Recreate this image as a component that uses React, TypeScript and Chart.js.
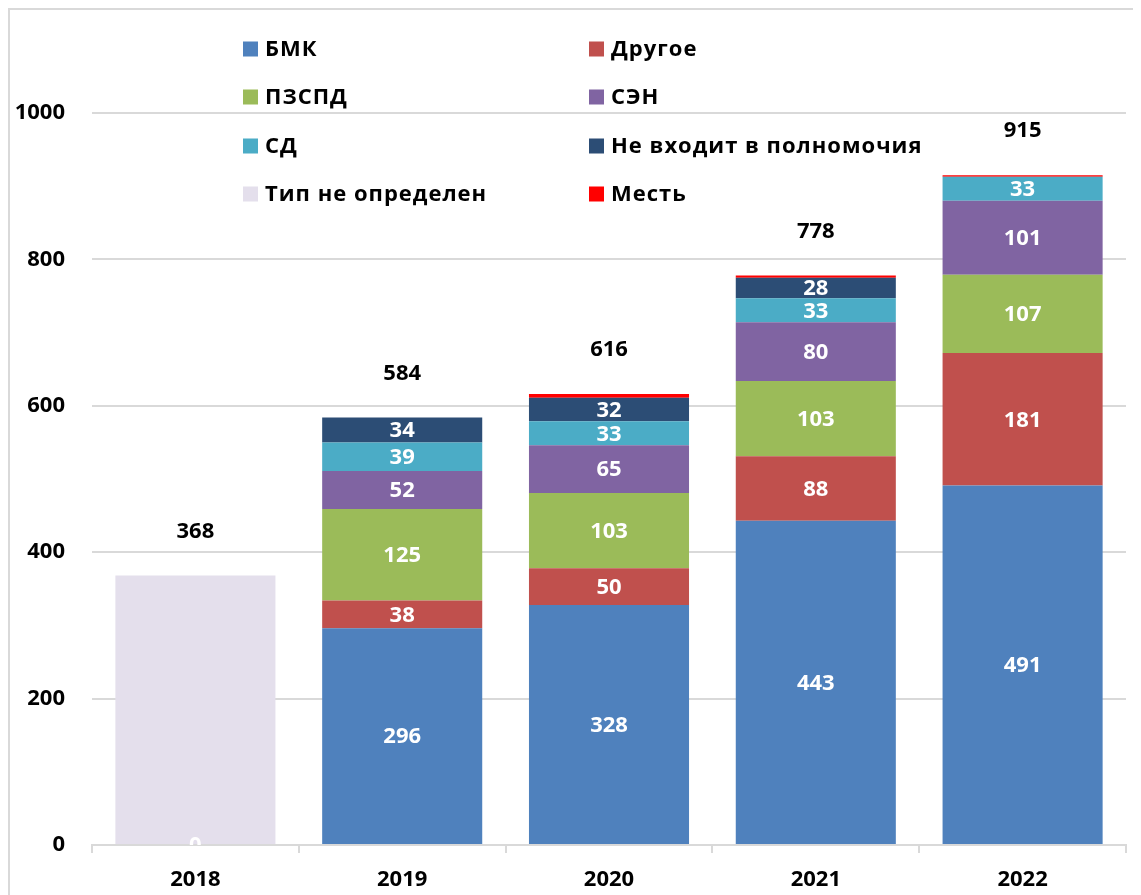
import React, { useEffect, useRef } from "react";
import { Chart, registerables } from "chart.js";

Chart.register(...registerables);

const categories = ["2018", "2019", "2020", "2021", "2022"];
const bmk = [0, 296, 328, 443, 491];
const drugoe = [null, 38, 50, 88, 181];
const pzspd = [null, 125, 103, 103, 107];
const sen = [null, 52, 65, 80, 101];
const sd = [null, 39, 33, 33, 33];
const neVhodit = [null, 34, 32, 28, null];
const mest = [null, null, 5, 3, 2];
const tipNeOpredelen = [368, null, null, null, null];
const yTicks = [0, 200, 400, 600, 800, 1000];

const FONT = '"Open Sans", "Noto Sans", sans-serif';

type DS = { label: string; data: (number | null)[]; color: string; showLabels: boolean };
const seriesDefs: DS[] = [
  { label: "БМК", data: bmk, color: "#4F81BD", showLabels: true },
  { label: "Другое", data: drugoe, color: "#C0504D", showLabels: true },
  { label: "ПЗСПД", data: pzspd, color: "#9BBB59", showLabels: true },
  { label: "СЭН", data: sen, color: "#8064A2", showLabels: true },
  { label: "СД", data: sd, color: "#4BACC6", showLabels: true },
  { label: "Не входит в полномочия", data: neVhodit, color: "#2C4D75", showLabels: true },
  { label: "Месть", data: mest, color: "#FF0000", showLabels: false },
  { label: "Тип не определен", data: tipNeOpredelen, color: "#E4DFEC", showLabels: false },
];

const legendOrder = [
  "БМК", "Другое",
  "ПЗСПД", "СЭН",
  "СД", "Не входит в полномочия",
  "Тип не определен", "Месть",
];

export default function App() {
  const ref = useRef<HTMLCanvasElement | null>(null);
  useEffect(() => {
    document.documentElement.style.overflow = "hidden";
    document.body.style.overflow = "hidden";
    let chart: Chart | null = null;
    let cancelled = false;

    const labelsPlugin = {
      id: "segLabels",
      afterDatasetsDraw(c: any) {
        const ctx = c.ctx;
        const area = c.chartArea;
        ctx.save();
        ctx.beginPath();
        ctx.rect(area.left, area.top, area.right - area.left, area.bottom - area.top);
        ctx.clip();
        ctx.font = `bold 22px ${FONT}`;
        ctx.fillStyle = "#FFFFFF";
        ctx.textAlign = "center";
        ctx.textBaseline = "middle";
        seriesDefs.forEach((s, di) => {
          if (!s.showLabels) return;
          const meta = c.getDatasetMeta(di);
          s.data.forEach((v, i) => {
            if (v === null || v === undefined) return;
            const el: any = meta.data[i];
            const cy = (el.y + el.base) / 2;
            ctx.fillText(String(v), el.x, cy + 1);
          });
        });
        ctx.restore();

        // totals
        ctx.save();
        ctx.font = `bold 22px ${FONT}`;
        ctx.fillStyle = "#000000";
        ctx.textAlign = "center";
        ctx.textBaseline = "middle";
        const yScale = c.scales.y;
        const xScale = c.scales.x;
        categories.forEach((_, i) => {
          let total = 0;
          seriesDefs.forEach((s) => {
            const v = s.data[i];
            if (typeof v === "number") total += v;
          });
          const top = yScale.getPixelForValue(total);
          ctx.fillText(String(total), xScale.getPixelForValue(i), top - 44);
        });
        ctx.restore();
      },
      afterDraw(c: any) {
        const ctx = c.ctx;
        ctx.save();
        ctx.font = `bold 22px ${FONT}`;
        ctx.textAlign = "left";
        ctx.textBaseline = "middle";
        try { (ctx as any).letterSpacing = "1px"; } catch (e) {}
        const colX = [233, 579];
        const rowY = [39, 87, 136, 184];
        legendOrder.forEach((name, k) => {
          const s = seriesDefs.find((d) => d.label === name)!;
          const col = k % 2;
          const row = Math.floor(k / 2);
          const x = colX[col];
          const y = rowY[row];
          ctx.fillStyle = s.color;
          ctx.fillRect(x, y - 7.5, 15, 15);
          ctx.fillStyle = "#000000";
          ctx.fillText(name, x + 22, y + 1);
        });
        ctx.restore();
      },
    };

    const make = () => {
      if (cancelled || !ref.current) return;
      chart = new Chart(ref.current, {
        type: "bar",
        data: {
          labels: categories,
          datasets: seriesDefs.map((s) => ({
            label: s.label,
            data: s.data as any,
            backgroundColor: s.color,
            borderWidth: 0,
            stack: "a",
            categoryPercentage: 1,
            barPercentage: 0.774,
          })),
        },
        options: {
          responsive: false,
          animation: false,
          layout: { padding: { top: 103, right: 15, left: 0, bottom: 0 } },
          plugins: { legend: { display: false }, tooltip: { enabled: false } },
          scales: {
            x: {
              stacked: true,
              offset: true,
              afterFit: (s: any) => { s.height = 50; },
              grid: {
                offset: true,
                drawOnChartArea: false,
                drawTicks: true,
                tickLength: 8,
                color: "#D9D9D9",
                lineWidth: 2,
              },
              border: { display: true, color: "#D9D9D9", width: 2 },
              ticks: {
                color: "#000000",
                font: { family: FONT, size: 22, weight: "bold" },
                padding: 14,
              },
            },
            y: {
              stacked: true,
              min: 0,
              max: 1000,
              afterFit: (s: any) => { s.width = 82; },
              afterBuildTicks: (s: any) => { s.ticks = yTicks.map((v) => ({ value: v })); },
              grid: { color: "#D9D9D9", lineWidth: 2, drawTicks: false },
              border: { display: false },
              ticks: {
                color: "#000000",
                font: { family: FONT, size: 22, weight: "bold" },
                padding: 27,
                callback: (v: any) => String(v),
              },
            },
          },
        },
        plugins: [labelsPlugin],
      });
    };

    const fontsApi: any = (document as any).fonts;
    if (fontsApi && fontsApi.load) {
      fontsApi.load(`bold 22px "Open Sans"`).then(make, make);
    } else {
      make();
    }
    return () => {
      cancelled = true;
      if (chart) chart.destroy();
    };
  }, []);

  return (
    <div
      style={{
        position: "relative",
        width: 1133,
        height: 887,
        boxSizing: "border-box",
        borderLeft: "2px solid #D9D9D9",
        borderTop: "2px solid #D9D9D9",
        background: "#FFFFFF",
      }}
    >
      <canvas ref={ref} width={1131} height={885} style={{ display: "block", width: 1131, height: 885 }} />
    </div>
  );
}
